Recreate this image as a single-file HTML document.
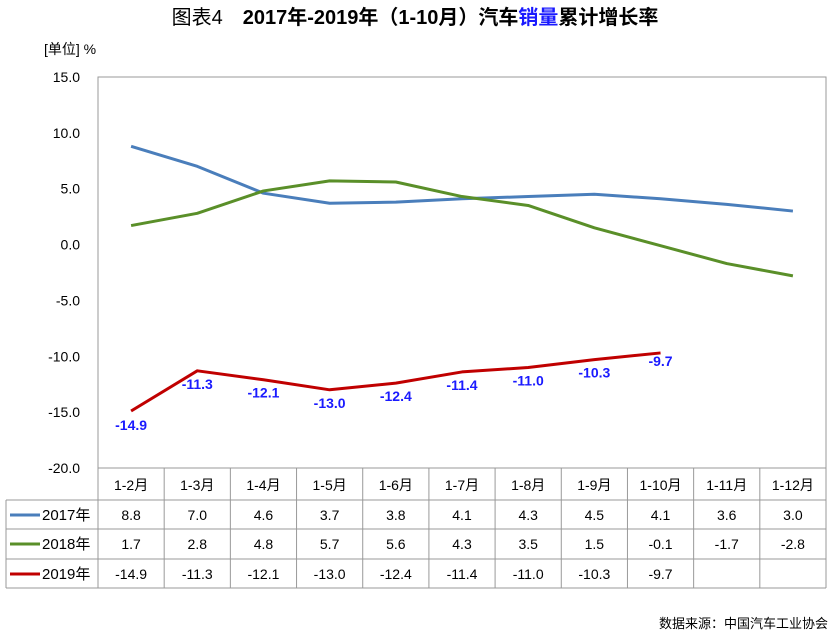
<!DOCTYPE html>
<html><head><meta charset="utf-8"><style>
body{margin:0;background:#fff;}
svg text{font-family:"Liberation Sans","Noto Sans CJK SC",sans-serif;}
</style></head><body>
<svg id="chart" width="835" height="635" viewBox="0 0 835 635" xmlns="http://www.w3.org/2000/svg">
<text x="415" y="24" text-anchor="middle" font-size="20" font-weight="bold"><tspan font-weight="normal">图表4</tspan>　2017年-2019年（1-10月）汽车<tspan fill="#1a1aff">销量</tspan>累计增长率</text>
<text x="44" y="54" font-size="14">[单位] %</text>
<rect x="98" y="77" width="728" height="391" fill="none" stroke="#999" stroke-width="1"/>
<g id="yaxis"></g><g id="series"></g><g id="table"></g>
<text x="828" y="628" text-anchor="end" font-size="13">数据来源：中国汽车工业协会</text>
</svg>
<script>
const categories=["1-2月","1-3月","1-4月","1-5月","1-6月","1-7月","1-8月","1-9月","1-10月","1-11月","1-12月"];
const s2017=[8.8,7.0,4.6,3.7,3.8,4.1,4.3,4.5,4.1,3.6,3.0];
const s2018=[1.7,2.8,4.8,5.7,5.6,4.3,3.5,1.5,-0.1,-1.7,-2.8];
const s2019=[-14.9,-11.3,-12.1,-13.0,-12.4,-11.4,-11.0,-10.3,-9.7];
const yTicks=[15,10,5,0,-5,-10,-15,-20];
const seriesNames=["2017年","2018年","2019年"];
const colors=["#4a7ebb","#5a8f29","#c00000"];
const NS="http://www.w3.org/2000/svg";
const L=98,R=826,T=77,B=468,cw=(R-L)/categories.length;
const y=v=>T+(15-v)/35*(B-T);
const x=i=>L+cw*(i+0.5);
function mk(tag,attrs,parent,txt){const e=document.createElementNS(NS,tag);for(const k in attrs)e.setAttribute(k,attrs[k]);if(txt!==undefined)e.textContent=txt;document.getElementById(parent).appendChild(e);return e;}
yTicks.forEach(t=>{const e=mk('text',{x:80,y:y(t)+5,'text-anchor':'end','font-size':14},'yaxis',t.toFixed(1));

});
[s2017,s2018,s2019].forEach((s,k)=>{const p=mk('polyline',{points:s.map((v,i)=>x(i)+','+y(v)).join(' '),fill:'none',stroke:colors[k],'stroke-width':3,'stroke-linejoin':'round'},'series');

});
s2019.forEach((v,i)=>{const e=mk('text',{x:x(i),y:y(v)+(i==0?19:18)+(i==8?-5:0),'text-anchor':'middle','font-size':14,'font-weight':'bold',fill:'#1a1aff'},'series',v.toFixed(1));

});
const rows=[500,529,559,588];
const g='table';
mk('line',{x1:L,y1:B,x2:L,y2:rows[3],stroke:'#999'},g);
for(let r=0;r<4;r++)mk('line',{x1:6,y1:rows[r],x2:R,y2:rows[r],stroke:'#999'},g);
mk('line',{x1:6,y1:rows[0],x2:6,y2:rows[3],stroke:'#999'},g);
for(let i=1;i<=categories.length;i++)mk('line',{x1:L+cw*i,y1:B,x2:L+cw*i,y2:rows[3],stroke:'#999'},g);
categories.forEach((c,i)=>{const e=mk('text',{x:x(i),y:490,'text-anchor':'middle','font-size':14},g,c);

});
[s2017,s2018,s2019].forEach((s,k)=>{const yy=rows[k]+20;
const ln=mk('line',{x1:10,y1:yy-5,x2:40,y2:yy-5,stroke:colors[k],'stroke-width':3},g);


const lt=mk('text',{x:42,y:yy,'font-size':15},g,seriesNames[k]);


s.forEach((v,i)=>{const e=mk('text',{x:x(i),y:yy,'text-anchor':'middle','font-size':14},g,v.toFixed(1));

});});
</script>
</body></html>
